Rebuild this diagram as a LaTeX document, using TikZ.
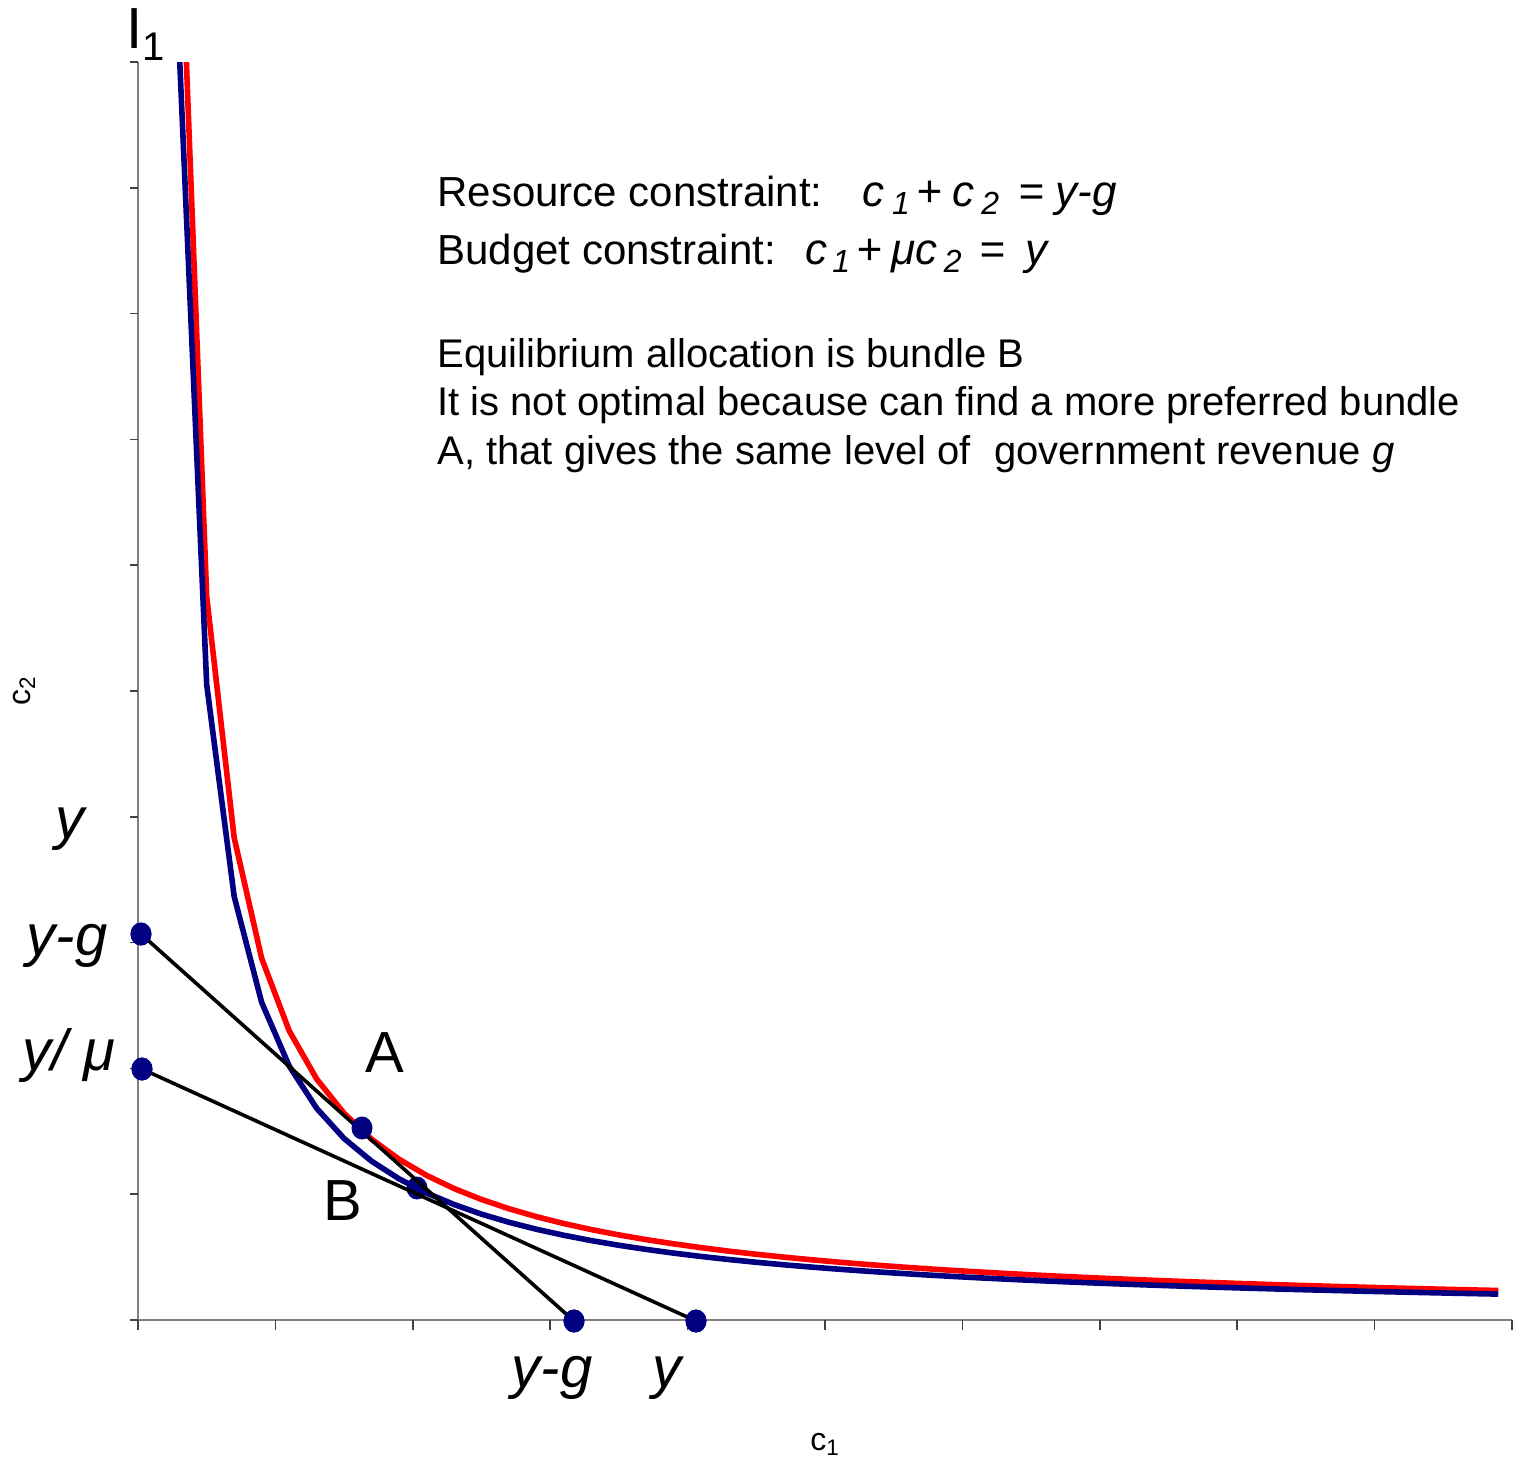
\documentclass[tikz,border=0pt]{standalone}
\usepackage{fontspec}
\setmainfont{Liberation Sans}
\usetikzlibrary{shapes.geometric}
\definecolor{navyc}{RGB}{0,0,128}
\definecolor{axgray}{RGB}{128,128,128}
\definecolor{tickgray}{RGB}{64,64,64}
\newcommand\subs[1]{\raisebox{-4pt}{\fontsize{16}{16}\selectfont\textit{#1}}}
\newcommand\mth[1]{{\fontsize{22}{24}\selectfont\textit{#1}}}
\begin{document}
\begin{tikzpicture}[x=0.5pt,y=-0.5pt,
  axisline/.style={draw=axgray, line width=0.8pt},
  tickline/.style={draw=tickgray, line width=0.8pt},
  redcurve/.style={draw=red, line width=2.8pt, line join=round},
  bluecurve/.style={draw=navyc, line width=2.8pt, line join=round},
  budgetline/.style={draw=black, line width=1.8pt},
  dot/.style={ellipse, fill=navyc, draw=none, minimum width=10.5pt, minimum height=11.5pt, inner sep=0pt},
  maintxt/.style={font=\fontsize{20}{24}\selectfont, inner sep=0pt, anchor=base west},
  eqtxt/.style={font=\fontsize{21}{24}\selectfont, inner sep=0pt, anchor=base west},
  biglab/.style={font=\fontsize{29}{31}\selectfont, inner sep=0pt, anchor=base},
  axtitle/.style={font=\fontsize{16}{18}\selectfont, inner sep=0pt, anchor=base}]
\useasboundingbox (0,0) rectangle (1526,1458);
% axes
\draw[axisline] (138,62) -- (138,1320) -- (1512,1320);
\foreach \k in {0,...,10}{
  \draw[tickline] (130,{1320-125.8*\k}) -- (138,{1320-125.8*\k});
  \draw[tickline] ({138+137.4*\k},1320) -- ({138+137.4*\k},1330);
}
% dot B below lines
\node[dot] (B) at (417,1188) {};
% curves
\begin{scope}
\clip (130,62) rectangle (1526,1340);
\draw[redcurve] plot[domain=0.3:9.9, samples=49] ({138+137.4*\x},{1320-125.8*2.3/(\x-0.1)});
\draw[bluecurve] plot[domain=0.3:9.9, samples=49] ({138+137.4*\x},{1320-125.8*2.02/(\x-0.1)});
\end{scope}
% end dots and constraint lines
\node[dot] (yg) at (141,934) {};
\node[dot] (ygx) at (574,1321) {};
\node[dot] (ymu) at (142,1069) {};
\node[dot] (yx) at (696,1321) {};
\draw[budgetline] (yg.center) -- (ygx.center);
\draw[budgetline] (ymu.center) -- (yx.center);
\node[dot] at (yg) {};
\node[dot] at (ygx) {};
\node[dot] at (ymu) {};
\node[dot] at (yx) {};
\node[dot] (A) at (362,1128) {};
% labels
\node[biglab, anchor=base west] (Ilab) at (126,48) {I};
\node[font=\fontsize{20}{24}\selectfont, inner sep=0pt, anchor=base west] (Isub) at (142,60) {1};
\node[biglab] (ly) at (71,838) {\textit{y}};
\node[biglab] (lyg) at (67,955) {\textit{y-g}};
\node[biglab] (lymu) at (69,1070) {\textit{y/ μ}};
\node[biglab] (bxyg) at (552,1387) {\textit{y-g}};
\node[biglab] (bxy) at (668,1387) {\textit{y}};
\node[biglab] (lA) at (385,1072) {A};
\node[biglab] (lB) at (343,1220) {B};
\node[axtitle, rotate=90] (c2lab) at (30,691) {c\textsubscript{2}};
\node[axtitle] (c1lab) at (825,1450) {c\textsubscript{1}};
% text block
\node[eqtxt] (rc) at (437,206) {Resource constraint:\hspace{20pt}\mth{c}\hspace{3.75pt}\subs{1}\hspace{3.4pt}\mth{+}\hspace{5pt}\mth{c}\hspace{3.5pt}\subs{2}\hspace{9.5pt}\mth{=}\hspace{6pt}\mth{y-g}};
\node[eqtxt] (bc) at (437,264) {Budget constraint:\hspace{15pt}\mth{c}\hspace{2.25pt}\subs{1}\hspace{2.9pt}\mth{+}\hspace{4.7pt}\mth{μc}\hspace{3.35pt}\subs{2}\hspace{9.1pt}\mth{=}\hspace{10.15pt}\mth{y}};
\node[maintxt] (eq1) at (437,367) {Equilibrium allocation is bundle B};
\node[maintxt] (eq2) at (437,415) {It is not optimal because can find a more preferred bundle};
\node[maintxt] (eq3) at (437,464) {A, that gives the same level of\hspace{6pt} government revenue \textit{g}};
\end{tikzpicture}
\end{document}
